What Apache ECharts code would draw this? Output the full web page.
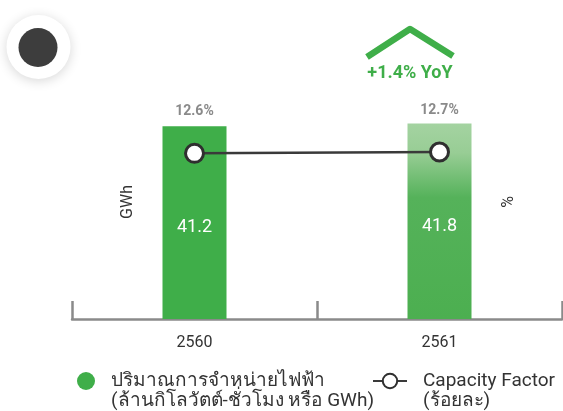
<!DOCTYPE html>
<html>
<head>
<meta charset="utf-8">
<script src="https://cdn.jsdelivr.net/npm/echarts@6/dist/echarts.min.js"></script>
<style>
  html, body { margin: 0; padding: 0; background: #fff; }
  #chart { width: 563px; height: 411px; }
</style>
</head>
<body>
<div id="chart"></div>
<script>
// ข้อมูลจากภาพ
var years = ["2560", "2561"];
var energySold = [41.2, 41.8];       // GWh
var capacityFactor = [12.6, 12.7];   // %
var yoyText = "+1.4% YoY";

var energyName = "ปริมาณการจำหน่ายไฟฟ้า\n(ล้านกิโลวัตต์-ชั่วโมง หรือ GWh)";
var cfName = "Capacity Factor\n(ร้อยละ)";

var green = "#3fae49";
var font = "Roboto, 'Noto Sans', sans-serif";

var chart = echarts.init(document.getElementById("chart"));

// icon sits on the first line, so push an empty line in front
var legendFormatter = function (name) {
  return " \n" + name;
};

var legendText = function (padLeft) {
  return {
    fontSize: 19,
    color: "#333",
    lineHeight: 20,
    padding: [0, 0, 0, padLeft],
    fontFamily: font
  };
};

var option = {
  animation: false,
  textStyle: { fontFamily: font },
  grid: { left: 72, right: 1, top: 85, bottom: 92 },
  legend: [
    {
      left: 72,
      top: 346,
      data: [{ name: energyName, icon: "circle" }],
      itemWidth: 34,
      itemHeight: 18,
      formatter: legendFormatter,
      textStyle: legendText(3)
    },
    {
      left: 367,
      top: 346,
      data: [{ name: cfName }],
      itemWidth: 34,
      itemHeight: 18,
      formatter: legendFormatter,
      textStyle: legendText(11)
    }
  ],
  xAxis: {
    type: "category",
    data: years,
    axisLine: { show: true, lineStyle: { color: "#8a8a8a", width: 2.5 } },
    axisTick: { show: true, inside: true, length: 18, lineStyle: { color: "#8a8a8a", width: 2.5 } },
    axisLabel: { color: "#333", fontSize: 16, margin: 16 }
  },
  yAxis: [
    {
      type: "value",
      min: 0,
      max: 50,
      name: "GWh",
      nameLocation: "middle",
      nameRotate: 90,
      nameGap: -64,
      nameTextStyle: { color: "#333", fontSize: 16 },
      axisLine: { show: false },
      axisTick: { show: false },
      axisLabel: { show: false },
      splitLine: { show: false }
    },
    {
      type: "value",
      min: 0,
      max: 17.8,
      position: "right",
      name: "%",
      nameLocation: "middle",
      nameRotate: 90,
      nameGap: -61,
      nameTextStyle: { color: "#333", fontSize: 16 },
      axisLine: { show: false },
      axisTick: { show: false },
      axisLabel: { show: false },
      splitLine: { show: false }
    }
  ],
  series: [
    {
      name: energyName,
      type: "bar",
      barWidth: 64,
      itemStyle: { color: green },
      data: energySold.map(function (v, i) {
        if (i === energySold.length - 1) {
          return {
            value: v,
            itemStyle: {
              color: new echarts.graphic.LinearGradient(0, 0, 0, 1, [
                { offset: 0, color: "#a4d3a1" },
                { offset: 0.15, color: "#98cd95" },
                { offset: 0.38, color: "#55b25a" },
                { offset: 1, color: "#4caf50" }
              ])
            }
          };
        }
        return v;
      }),
      label: {
        show: true,
        position: "inside",
        offset: [0, 5],
        color: "#fff",
        fontSize: 18,
        fontFamily: font
      }
    },
    {
      name: cfName,
      type: "line",
      yAxisIndex: 1,
      data: capacityFactor,
      symbol: "circle",
      symbolSize: 18,
      lineStyle: { color: "#3a3a3a", width: 2.5 },
      itemStyle: { color: "#fff", borderColor: "#2f2f2f", borderWidth: 3 },
      label: {
        show: true,
        position: "top",
        distance: 24,
        formatter: "{c}%",
        color: "#8a8a8a",
        fontSize: 14,
        fontWeight: "bold",
        fontFamily: font
      }
    }
  ],
  graphic: [
    {
      type: "circle",
      shape: { cx: 38.5, cy: 47, r: 32 },
      style: { fill: "#fff", shadowBlur: 12, shadowColor: "rgba(0,0,0,0.16)", shadowOffsetY: 2 }
    },
    {
      type: "circle",
      shape: { cx: 38, cy: 47.5, r: 19.5 },
      style: { fill: "#3d3d3d" }
    },
    {
      type: "polyline",
      shape: { points: [[367, 57], [410, 29], [453, 56]] },
      style: { stroke: green, lineWidth: 6.5, fill: null, lineJoin: "round" }
    },
    {
      type: "text",
      x: 410,
      y: 73,
      style: {
        text: yoyText,
        fill: green,
        font: "bold 18px " + font,
        textAlign: "center",
        textVerticalAlign: "middle"
      }
    }
  ]
};

chart.setOption(option);
</script>
</body>
</html>
